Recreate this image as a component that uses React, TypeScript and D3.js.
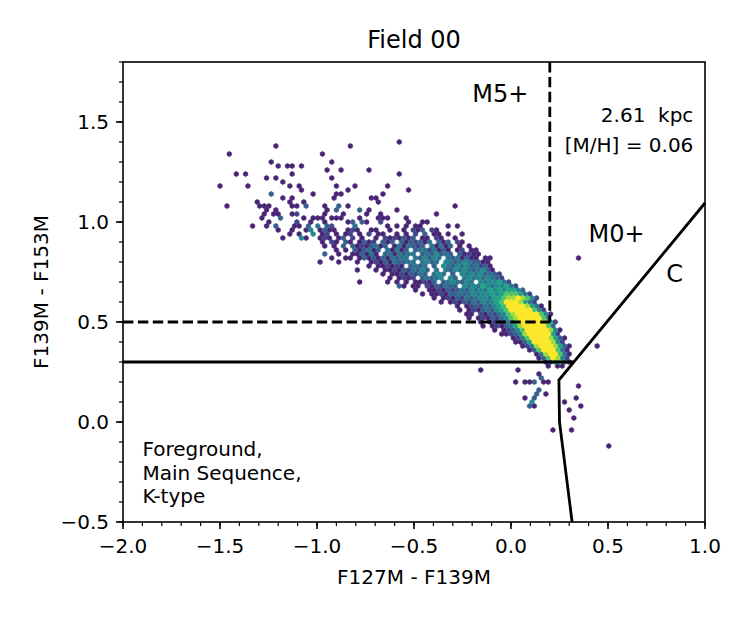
import React from 'react';
import * as d3 from 'd3';

const xDomain: [number, number] = [-2.0, 1.0];
const yDomain: [number, number] = [-0.5, 1.8];
const xMajorTicks = [-2.0, -1.5, -1.0, -0.5, 0.0, 0.5, 1.0];
const yMajorTicks = [-0.5, 0.0, 0.5, 1.0, 1.5];
const minorStep = 0.1;

// hexbin lattice (data units)
const binWidth = 0.024;
const rowStep = 0.02;

// dense band of bins: [row, startCol, count levels ('.' = empty)]
const bandRows: [number, number, string][] = [
  [52, -53, '1.....12.....1...1.......1'],
  [51, -54, '1...........1..1.....1.....1'],
  [50, -52, '1.....2...........3.....2.....1'],
  [49, -51, '1....1.3....2....4......1.....1...'],
  [48, -47, '1..15.1311..121..11..1..1.213.21...'],
  [47, -46, '1..1.12.1.12.1.2.11..1.1.2.3.11.1..1'],
  [46, -44, '1..121.13.2.1..1.2121313.11.21..1.'],
  [45, -41, '1.21.31.1312.313.3132314.313.21.'],
  [44, -40, '1.1.3.31213413.1414323.41413.1.1'],
  [43, -38, '1.1.313413.41413.34424131.12.11'],
  [42, -37, '1..113141.3414344.3435343.31211'],
  [41, -35, '1.13131314344.435354.4341311.1'],
  [40, -33, '1..1213143344.4534.5434543311'],
  [39, -31, '1.112121.3434.3.54354534231'],
  [38, -30, '.1.1121324353.4.43545434531'],
  [37, -28, '1.11213243.454.3.545453432'],
  [36, -26, '1.1212.34345.53.454545432'],
  [35, -25, '1.1.11213.3454354.5455642'],
  [34, -23, '1.11.2132433.545465455642'],
  [33, -21, '1..112132343545465656653'],
  [32, -19, '1.1121334345455656777642'],
  [31, -17, '1.121324345546678898752'],
  [30, -15, '1.1213243545679998642'],
  [29, -12, '1.12324356799998641'],
  [28, -11, '1.12134356799999752'],
  [27, -10, '11.2132457899999751'],
  [26, -9, '1.1213245789999974'],
  [25, -7, '1.123246899999862'],
  [24, -6, '1.12134689999973'],
  [23, -4, '1.1235799999851'],
  [22, -2, '1123589999962'],
  [21, 0, '124799998631'],
  [20, 1, '11369999852'],
  [19, 2, '12489998631'],
  [18, 4, '137999741'],
  [17, 5, '14899741'],
  [16, 6, '1379852'],
  [15, 7, '136741'],
  [14, 8, '1.11'],
];

// isolated bins: [row, col, level]
const isolatedBins: [number, number, number][] = [
  [69, -51, 1], [67, -61, 1], [67, -41, 1], [65, -52, 1], [65, -39, 1], [64, -45, 1], [64, -50, 1],
  [64, -48, 1], [64, -47, 1], [63, -40, 1], [62, -59, 1], [62, -57, 1], [62, -47, 1], [61, -53, 1],
  [61, -51, 1], [61, -39, 1], [60, -49, 1], [59, -48, 1], [59, -46, 1], [58, -45, 1], [59, -57, 1],
  [59, -63, 1], [57, -52, 3], [57, -43, 1], [56, -47, 1], [56, -49, 1], [55, -55, 1], [55, -48, 1],
  [55, -45, 1], [54, -61, 1], [54, -54, 1], [54, -53, 1], [54, -52, 1], [54, -47, 1], [54, -46, 1],
  [54, -44, 3], [54, -40, 1], [53, -51, 1], [53, -53, 1], [53, -40, 1], [53, -38, 3], [52, -51, 1],
  [52, -50, 1], [51, -50, 3], [51, -54, 1], [51, -45, 1], [51, -43, 1], [51, -41, 1], [50, -46, 1],
  [50, -43, 1], [50, -40, 1], [49, -42, 4], [49, -40, 3], [49, -56, 1], [49, -53, 1], [49, -51, 3],
  [49, -47, 1], [49, -46, 1], [48, -50, 1], [46, -49, 1], [47, -48, 1], [46, -45, 5], [47, -43, 5],
  [69, -35, 1], [70, -24, 1], [63, -37, 1], [63, -31, 1], [62, -24, 1], [59, -38, 1], [59, -34, 1],
  [58, -35, 1], [59, -27, 1], [58, -22, 1], [57, -38, 1], [57, -37, 1], [56, -38, 1], [57, -28, 1],
  [56, -30, 1], [56, -29, 1], [55, -29, 1], [54, -12, 1], [54, -37, 3], [54, -35, 1], [53, -33, 3],
  [53, -31, 1], [52, -31, 1], [53, -25, 1], [52, -28, 1], [51, -29, 1], [51, -28, 1], [52, -16, 1],
  [51, -38, 1], [51, -37, 1], [50, -35, 1], [50, -34, 1], [51, -23, 1], [50, -19, 1], [50, -18, 1],
  [50, -32, 3], [50, -31, 1], [49, -27, 1], [49, -25, 1], [49, -23, 1], [49, -20, 1], [49, -14, 1],
  [49, -12, 1],
  [40, -41, 1], [38, -33, 1], [35, -33, 1], [35, -27, 1], [34, -24, 3], [42, -40, 3], [41, -39, 1],
  [40, -37, 1], [41, -36, 1],
  [41, -5, 1], [41, 14, 1], [19, 18, 1],
  [13, -7, 1], [13, 1, 1], [12, 6, 1], [11, 6, 3], [10, 1, 1], [10, 3, 1], [10, 4, 1], [10, 5, 3],
  [10, 7, 1], [10, 8, 1], [8, 6, 3], [7, 5, 3], [7, 7, 1], [6, 3, 1], [6, 5, 3], [5, 4, 5], [4, 4, 3],
  [4, 5, 1], [5, 11, 1], [9, 14, 1], [6, 14, 1], [4, 15, 1], [3, 12, 1], [1, 13, 1], [-2, 9, 1],
  [-2, 13, 1], [-6, 21, 1],
];

// region boundaries
const solidLine: [number, number][] = [[-2.0, 0.3], [0.324, 0.3]];
const cLine: [number, number][] = [[0.315, -0.5], [0.25, 0.0], [0.247, 0.21], [1.0, 1.095]];
const dashV: [number, number][] = [[0.2, 1.8], [0.2, 0.5]];
const dashH: [number, number][] = [[-2.0, 0.5], [0.2, 0.5]];

const regionLabels = [
  { text: 'M5+', x: -0.2, y: 1.6 },
  { text: 'M0+', x: 0.4, y: 0.9 },
  { text: 'C', x: 0.8, y: 0.7 },
];
const infoLines = [
  { text: '2.61  kpc', x: 0.94, y: 1.5 },
  { text: '[M/H] = 0.06', x: 0.94, y: 1.35 },
];
const fgLines = ['Foreground,', 'Main Sequence,', 'K-type'];
const fgPos = { x: -1.9, y: -0.17 };

const levelT = [0, 0.1, 0.2, 0.3, 0.38, 0.47, 0.58, 0.72, 0.86, 1.0];
const FONT = 'DejaVu Sans, sans-serif';
const fmt = (v: number) => (v < 0 ? '\u2212' : '') + Math.abs(v).toFixed(1);

export default function App() {
  const W = 752, H = 617;
  const L = 123, R = 705, T = 62, B = 522;
  const x = d3.scaleLinear().domain(xDomain).range([L, R]);
  const y = d3.scaleLinear().domain(yDomain).range([B, T]);

  const bins = new Map<string, { k: number; c: number; lvl: number }>();
  const add = (k: number, c: number, lvl: number) => {
    const key = k + ',' + c;
    const prev = bins.get(key);
    if (!prev || prev.lvl < lvl) bins.set(key, { k, c, lvl });
  };
  bandRows.forEach(([k, c0, s]) => {
    s.split('').forEach((ch, i) => {
      if (ch !== '.') add(k, c0 + i, +ch);
    });
  });
  isolatedBins.forEach(([k, c, l]) => add(k, c, l));

  const wPx = x(binWidth) - x(0);
  const r = wPx / Math.sqrt(3);
  const hx = (r * Math.sqrt(3)) / 2;
  const hexPath = `M0,${-r}L${hx},${-r / 2}L${hx},${r / 2}L0,${r}L${-hx},${r / 2}L${-hx},${-r / 2}Z`;

  const line = d3.line<[number, number]>().x((d) => x(d[0])).y((d) => y(d[1]));

  const xMinor = d3.range(Math.round((xDomain[1] - xDomain[0]) / minorStep) + 1).map((i) => xDomain[0] + i * minorStep);
  const yMinor = d3.range(Math.round((yDomain[1] - yDomain[0]) / minorStep) + 1).map((i) => yDomain[0] + i * minorStep);

  const cells = Array.from(bins.values()).sort((a, b) => a.lvl - b.lvl);

  return (
    <svg width={W} height={H} style={{ position: 'absolute', left: 0, top: 0, background: '#fff' }} fontFamily={FONT}>
      <rect x={0} y={0} width={W} height={H} fill="#fff" />
      <g>
        {cells.map((d, i) => {
          const cx = x(d.c * binWidth + (Math.abs(d.k) % 2 === 1 ? binWidth / 2 : 0));
          const cy = y(d.k * rowStep);
          const col = d3.interpolateViridis(levelT[d.lvl]);
          return <path key={i} d={hexPath} transform={`translate(${cx},${cy})`} fill={col} stroke={col} strokeWidth={0.4} />;
        })}
      </g>
      <path d={line(solidLine) || ''} fill="none" stroke="#000" strokeWidth={2.8} />
      <path d={line(cLine) || ''} fill="none" stroke="#000" strokeWidth={2.8} strokeLinejoin="miter" />
      <path d={line(dashV) || ''} fill="none" stroke="#000" strokeWidth={2.8} strokeDasharray="10.4,4.5" />
      <path d={line(dashH) || ''} fill="none" stroke="#000" strokeWidth={2.8} strokeDasharray="10.4,4.5" />

      <rect x={L} y={T} width={R - L} height={B - T} fill="none" stroke="#000" strokeWidth={1.6} />

      {xMinor.map((v, i) => (
        <line key={'xm' + i} x1={x(v)} x2={x(v)} y1={B} y2={B + 4} stroke="#000" strokeWidth={1.2} />
      ))}
      {xMajorTicks.map((v, i) => (
        <g key={'xt' + i}>
          <line x1={x(v)} x2={x(v)} y1={B} y2={B + 7} stroke="#000" strokeWidth={1.6} />
          <text x={x(v)} y={553} fontSize={20} textAnchor="middle">{fmt(v)}</text>
        </g>
      ))}
      {yMinor.map((v, i) => (
        <line key={'ym' + i} x1={L - 4} x2={L} y1={y(v)} y2={y(v)} stroke="#000" strokeWidth={1.2} />
      ))}
      {yMajorTicks.map((v, i) => (
        <g key={'yt' + i}>
          <line x1={L - 7} x2={L} y1={y(v)} y2={y(v)} stroke="#000" strokeWidth={1.6} />
          <text x={109} y={y(v) + 7.3} fontSize={20} textAnchor="end">{fmt(v)}</text>
        </g>
      ))}

      <text x={(L + R) / 2} y={584} fontSize={20} textAnchor="middle">F127M - F139M</text>
      <text transform={`translate(48,${(T + B) / 2}) rotate(-90)`} fontSize={20} textAnchor="middle">F139M - F153M</text>
      <text x={(L + R) / 2} y={48} fontSize={24} textAnchor="middle">Field 00</text>

      {regionLabels.map((d, i) => (
        <text key={'rl' + i} x={x(d.x)} y={y(d.y)} fontSize={24}>{d.text}</text>
      ))}
      {infoLines.map((d, i) => (
        <text key={'il' + i} x={x(d.x)} y={y(d.y)} fontSize={20} textAnchor="end" style={{ whiteSpace: 'pre' }}>{d.text}</text>
      ))}
      {fgLines.map((t, i) => (
        <text key={'fg' + i} x={x(fgPos.x)} y={y(fgPos.y) + i * 23.5} fontSize={20}>{t}</text>
      ))}
    </svg>
  );
}
